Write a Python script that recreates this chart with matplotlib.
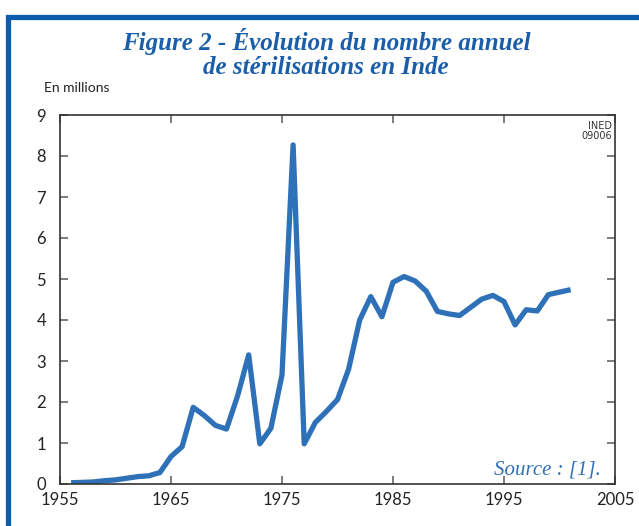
import matplotlib.pyplot as plt
from matplotlib.patches import Rectangle

# Données (en millions)
years = list(range(1956, 2002))
sterilisations = [0.03, 0.04, 0.05, 0.08, 0.10, 0.14, 0.18, 0.20, 0.28, 0.67,
                  0.91, 1.87, 1.67, 1.43, 1.34, 2.15, 3.15, 0.98, 1.36, 2.66,
                  8.27, 0.98, 1.50, 1.77, 2.06, 2.80, 4.00, 4.57, 4.08, 4.92,
                  5.06, 4.95, 4.70, 4.21, 4.15, 4.11, 4.31, 4.51, 4.60, 4.45,
                  3.88, 4.25, 4.22, 4.62, 4.68, 4.74]
x_ticks = [1955, 1965, 1975, 1985, 1995, 2005]
y_ticks = list(range(0, 10))
title_lines = ['Figure 2 - Évolution du nombre annuel', 'de stérilisations en Inde']

blue_line = '#2E71B8'
blue_title = '#1A5EAA'
frame_blue = '#0B5CAB'

fig = plt.figure(figsize=(6.39, 5.26), dpi=100)

# cadre bleu
fig.patches.append(Rectangle((7.5 / 639, -0.2), 1.2, 1 - 16.5 / 526 + 0.2,
                             transform=fig.transFigure, fill=False,
                             edgecolor=frame_blue, linewidth=3.8))

ax = fig.add_axes([60 / 639, 42 / 526, 555 / 639, 369 / 526])
ax.plot(years, sterilisations, color=blue_line, linewidth=3.8, solid_capstyle='butt')

ax.set_xlim(1955, 2005)
ax.set_ylim(0, 9)
ax.set_xticks(x_ticks)
ax.set_yticks(y_ticks)
ax.tick_params(direction='in', length=6, width=1.2, color='#666666',
               top=True, right=True, labelsize=12, pad=6)
ax.tick_params(axis='y', pad=10)
for lab in ax.get_xticklabels() + ax.get_yticklabels():
    lab.set_family('Lato')
    lab.set_color('#222222')
for s in ax.spines.values():
    s.set_color('#333333')
    s.set_linewidth(1.2)

# titre sur deux lignes
for i, line in enumerate(title_lines):
    fig.text(326 / 639, 1 - (50 + 24 * i) / 526, line, ha='center', va='baseline',
             family='Liberation Serif', style='italic', weight='bold',
             fontsize=18, color=blue_title)
fig.text(44 / 639, 1 - 88 / 526, 'En millions', ha='left', va='center',
         family='Lato', fontsize=10, color='#222222')
ax.text(0.995, 0.985, 'INED\n09006', transform=ax.transAxes, ha='right', va='top',
        family='DejaVu Sans', fontsize=7, color='#333333', linespacing=1.0)
ax.text(0.975, 0.026, 'Source : [1].', transform=ax.transAxes, ha='right', va='baseline',
        family='Liberation Serif', style='italic', fontsize=15, color=blue_line)

fig.savefig('out.png', dpi=100)
